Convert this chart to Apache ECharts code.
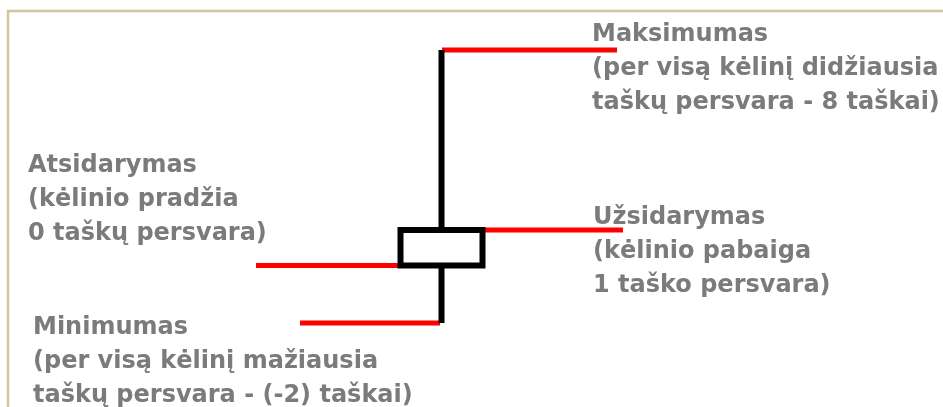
<!DOCTYPE html>
<html><head><meta charset="utf-8">
<script src="https://cdn.jsdelivr.net/npm/echarts@6/dist/echarts.min.js"></script>
<style>html,body{margin:0;padding:0;background:#fff;overflow:hidden}#c{width:943px;height:407px}</style>
</head><body><div id="c"></div>
<script>
// ---- data ----
const categories = ['Kėlinys'];
const openValues = [0];
const closeValues = [1];
const lowValues = [-1.62];
const highValues = [6.07];

const labelTitles = ['Maksimumas', 'Atsidarymas', 'Užsidarymas', 'Minimumas'];
const labelLine2 = ['(per visą kėlinį didžiausia', '(kėlinio pradžia', '(kėlinio pabaiga', '(per visą kėlinį mažiausia'];
const labelLine3 = ['taškų persvara - 8 taškai)', '0 taškų persvara)', '1 taško persvara)', 'taškų persvara - (-2) taškai)'];
const labelRefs = ['high', 'open', 'close', 'low'];

// ---- layout (pixels / styles) ----
const Y_MIN = -3.986, Y_MAX = 7.479;
const leaderX = [[442, 617], [256, 400], [484, 623], [300, 440]];
const labelPos = [[592, 18], [28, 149], [593, 201], [33, 311]];

const refValue = {
  high: highValues[0], open: openValues[0], close: closeValues[0], low: lowValues[0]
};

const candleData = categories.map((c, i) => [openValues[i], closeValues[i], lowValues[i], highValues[i]]);

const leaderSeries = labelRefs.map((ref, i) => ({
  type: 'line',
  xAxisIndex: 1, yAxisIndex: 1,
  data: [[leaderX[i][0], refValue[ref]], [leaderX[i][1], refValue[ref]]],
  symbol: 'none', silent: true, z: 1,
  lineStyle: { color: '#ff0000', width: 5, cap: 'butt' }
}));

const textGraphics = labelTitles.map((t, i) => ({
  type: 'text', left: labelPos[i][0], top: labelPos[i][1], z: 10,
  style: {
    text: [t, labelLine2[i], labelLine3[i]].join('\n'),
    font: 'bold 24px "DejaVu Sans"', fill: '#7b7b7b', lineHeight: 34
  }
}));

const chart = echarts.init(document.getElementById('c'), null, { renderer: 'canvas' });
chart.setOption({
  animation: false,
  backgroundColor: '#ffffff',
  grid: [
    { left: 0, right: 60, top: 0, bottom: 0 },
    { left: 0, right: 0, top: 0, bottom: 0 }
  ],
  xAxis: [
    { type: 'category', data: categories, gridIndex: 0, show: false, boundaryGap: true },
    { type: 'value', gridIndex: 1, min: 0, max: 943, show: false }
  ],
  yAxis: [
    { type: 'value', gridIndex: 0, min: Y_MIN, max: Y_MAX, show: false },
    { type: 'value', gridIndex: 1, min: Y_MIN, max: Y_MAX, show: false }
  ],
  graphic: [
    { type: 'polyline', z: 0, shape: { points: [[8, 407], [8, 11], [943, 11]] },
      style: { stroke: '#d0c6a0', lineWidth: 2.5, fill: null } }
  ].concat(textGraphics),
  series: [
    {
      type: 'candlestick', xAxisIndex: 0, yAxisIndex: 0, z: 5,
      data: candleData,
      barWidth: 82, barMaxWidth: 200,
      itemStyle: {
        color: '#ffffff', color0: '#ffffff',
        borderColor: '#000000', borderColor0: '#000000', borderWidth: 6
      },
      silent: true
    }
  ].concat(leaderSeries)
});
</script></body></html>
